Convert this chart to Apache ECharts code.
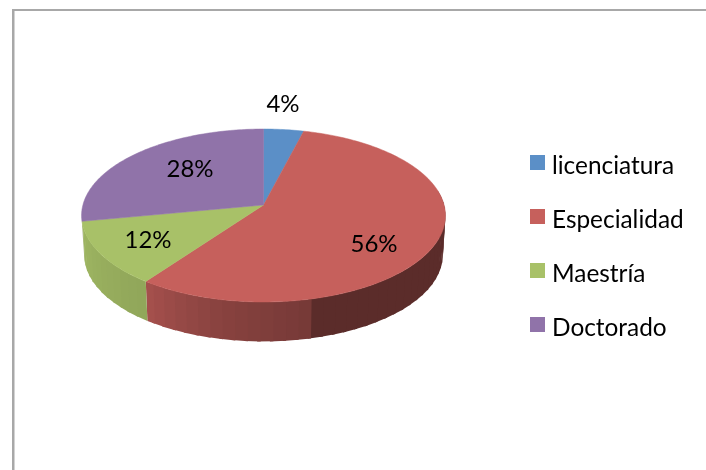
<!DOCTYPE html>
<html>
<head>
<meta charset="utf-8">
<style>
  html, body { margin: 0; padding: 0; background: #fff; }
  #chart { width: 706px; height: 470px; }
</style>
<script src="https://cdn.jsdelivr.net/npm/echarts@6/dist/echarts.min.js"></script>
</head>
<body>
<div id="chart"></div>
<script>
var categories = ['licenciatura', 'Especialidad', 'Maestría', 'Doctorado'];
var shares = [4, 56, 12, 28];
var colors = ['#5b8fc7', '#c6605c', '#a8c168', '#9073a9'];

// where Excel left each percentage label
var labelSpots = [[283, 104], [374, 244], [148, 240], [190, 169]];

// perspective disc fitted to the picture
var apexX = 263.5, apexY = 205, scaleX = 180.6, scaleY = 85.2, persp = 0.1214;
var depth = 39.5, baseShrink = 0.986;
var fontName = 'Lato';

function rimPoint(deg, ratio) {
  var a = deg * Math.PI / 180;
  var t = -Math.cos(a) * ratio;
  var d = 1 - persp * t;
  return [apexX + scaleX * Math.sin(a) * ratio / d, apexY + scaleY * t / d];
}

function basePoint(p) {
  return [apexX + (p[0] - apexX) * baseShrink, p[1] + depth];
}

function startDeg(index) {
  var sum = 0;
  for (var i = 0; i < index; i++) sum += shares[i];
  return sum * 3.6;
}

// darkening of the side wall, going clockwise round the pie
function wallShade(deg) {
  var stops = [[0, 0.46], [167, 0.46], [167.3, 0.6], [190, 0.68], [205, 0.76], [216, 0.84], [216.1, 0.86], [262, 0.95], [360, 0.95]];
  for (var i = 1; i < stops.length; i++) {
    if (deg <= stops[i][0]) {
      var k = (deg - stops[i - 1][0]) / (stops[i][0] - stops[i - 1][0]);
      return stops[i - 1][1] + (stops[i][1] - stops[i - 1][1]) * k;
    }
  }
  return 1;
}

function darken(hex, f) {
  var n = parseInt(hex.slice(1), 16);
  return 'rgb(' + Math.round((n >> 16) * f) + ',' + Math.round(((n >> 8) & 255) * f) + ',' + Math.round((n & 255) * f) + ')';
}

function renderWalls(params, api) {
  var i = params.dataIndex;
  var from = Math.max(startDeg(i), 80);
  var to = Math.min(startDeg(i) + api.value(0) * 3.6, 260);
  var step = 3.6;
  var children = [];
  for (var d = from; d < to; d += step) {
    var e = Math.min(d + step, to);
    // run a little into the next band so no seam shows
    var p1 = rimPoint(d, 1), p2 = rimPoint(Math.min(e + 1, to), 1);
    children.push({
      type: 'polygon',
      shape: { points: [p1, p2, basePoint(p2), basePoint(p1)] },
      style: { fill: darken(colors[i], wallShade(d + (e - d) / 2)) }
    });
  }
  return { type: 'group', children: children };
}

function renderSlice(index) {
  return function (params, api) {
    var from = startDeg(index);
    var to = from + api.value(0) * 3.6;
    var points = [[apexX, apexY]];
    for (var d = from; d < to; d += 1) points.push(rimPoint(d, 1));
    points.push(rimPoint(to, 1));
    return {
      type: 'group',
      children: [{
        type: 'polygon',
        shape: { points: points },
        style: { fill: colors[index], stroke: colors[index], lineWidth: 0.5 }
      }, {
        type: 'text',
        style: {
          x: labelSpots[index][0],
          y: labelSpots[index][1],
          text: api.value(0) + '%',
          fill: '#000',
          font: '24px ' + fontName,
          textAlign: 'center',
          textVerticalAlign: 'middle'
        }
      }]
    };
  };
}

var series = [{
  type: 'custom',
  name: 'walls',
  coordinateSystem: 'none',
  z: 1,
  silent: true,
  renderItem: renderWalls,
  data: shares.map(function (v) { return [v]; })
}];

categories.forEach(function (name, i) {
  series.push({
    type: 'custom',
    name: name,
    coordinateSystem: 'none',
    z: 2,
    silent: true,
    itemStyle: { color: colors[i] },
    renderItem: renderSlice(i),
    data: [[shares[i]]]
  });
});

var chart = echarts.init(document.getElementById('chart'), null, { renderer: 'canvas' });
chart.setOption({
  animation: false,
  backgroundColor: '#fff',
  legend: {
    data: categories,
    orient: 'vertical',
    left: 530,
    top: 154.5,
    icon: 'rect',
    itemWidth: 15,
    itemHeight: 15,
    itemGap: 30,
    selectedMode: false,
    padding: 0,
    // empty tall token pushes the name a little below the swatch centre
    formatter: function (name) { return '{g|}{t|' + name + '}'; },
    textStyle: {
      color: '#000',
      rich: {
        g: { height: 32, width: 2 },
        t: { color: '#000', fontFamily: fontName, fontSize: 24.4, lineHeight: 24, verticalAlign: 'bottom' }
      }
    }
  },
  graphic: [
    { type: 'rect', shape: { x: 12, y: 9, width: 2.5, height: 461 }, style: { fill: '#a8a8a8' } },
    { type: 'rect', shape: { x: 12, y: 9, width: 694, height: 2 }, style: { fill: '#a8a8a8' } }
  ],
  series: series
});
</script>
</body>
</html>
